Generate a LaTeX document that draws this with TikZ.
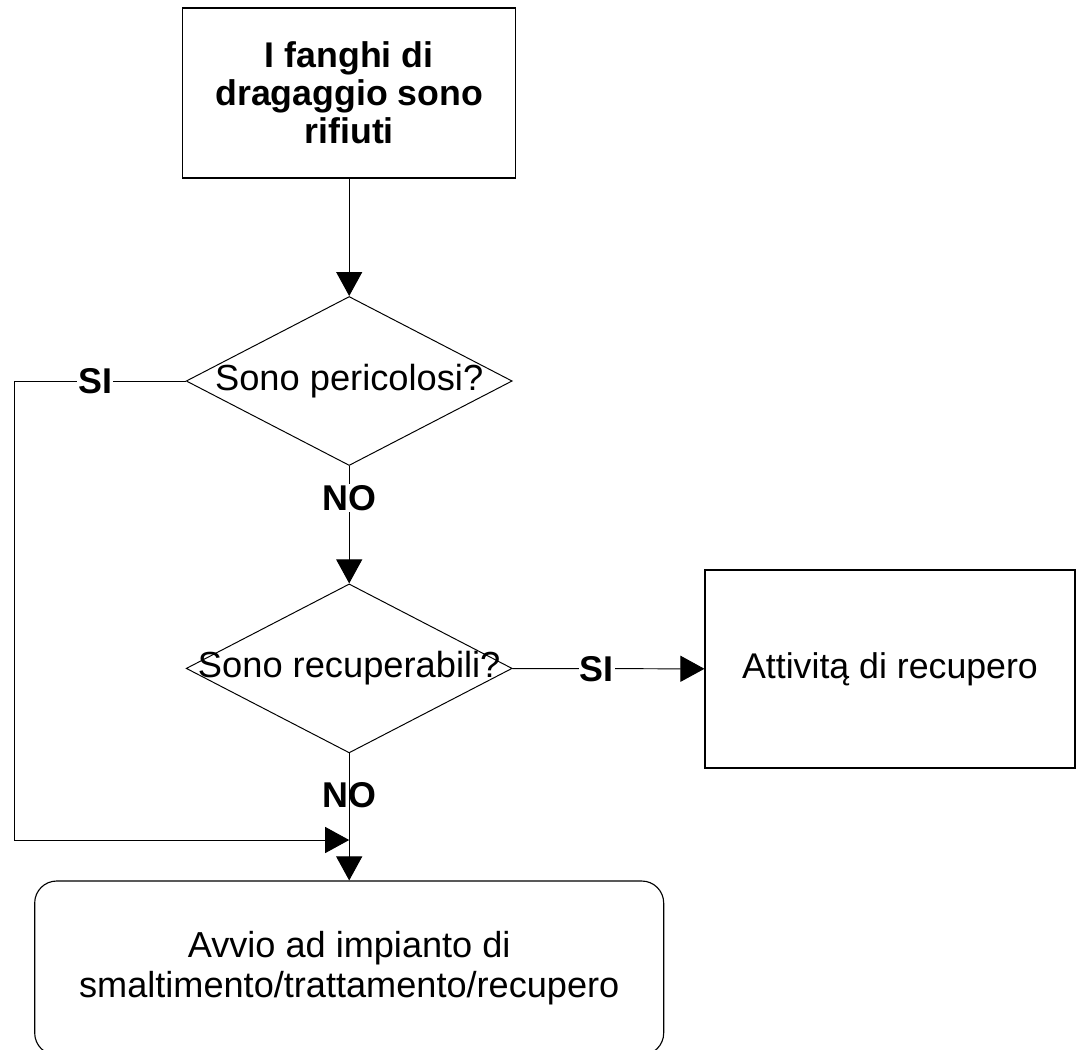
\documentclass[tikz,border=0pt]{standalone}
\usepackage{fontspec}
\setmainfont{Liberation Sans}
\usetikzlibrary{shapes.geometric, arrows.meta}
\tikzstyle{startbox} = [rectangle, draw, line width=0.9pt, minimum width=8.325cm, minimum height=4.25cm, align=center, font=\bfseries\fontsize{25.4}{27}\selectfont]
\tikzstyle{decision} = [diamond, draw, line width=0.7pt, inner sep=0pt, minimum width=8.15cm, minimum height=4.225cm, font=\fontsize{25.8}{31}\selectfont]
\tikzstyle{process} = [rectangle, draw, line width=0.8pt, minimum width=9.25cm, minimum height=4.95cm, align=center, font=\fontsize{25.4}{30}\selectfont]
\tikzstyle{endbox} = [rectangle, draw, line width=0.8pt, rounded corners=0.55cm, minimum width=15.725cm, minimum height=4.35cm, align=center, font=\fontsize{25.7}{28.5}\selectfont]
\tikzstyle{answer} = [fill=white, inner sep=1pt, font=\bfseries\fontsize{25.5}{28}\selectfont]
\tikzstyle{arrow} = [line width=0.7pt, -{Triangle[length=0.6cm, width=0.65cm]}]

\begin{document}
\begin{tikzpicture}
    \useasboundingbox (0,0) rectangle (26.9,-26.225);

    \node [startbox] at (8.73,-2.325) (start) {I fanghi di\\dragaggio sono\\rifiuti};
    \node [decision] at (8.73,-9.525) (danger) {\makebox[0pt]{Sono pericolosi?}};
    \node [decision] at (8.73,-16.71) (recover) {\makebox[0pt]{Sono recuperabili?}};
    \node [process] at (22.25,-16.725) (activity) {Attivitą di recupero};
    \node [endbox] at (8.73,-24.2) (plant) {Avvio ad impianto di\\smaltimento/trattamento/recupero};
    \coordinate (join) at (8.73,-21);

    \draw [arrow] (start) -- (danger);
    \draw [arrow] (danger) -- node[answer, pos=0.27] {NO} (recover);
    \draw [arrow] (recover) -- node[answer, pos=0.44] {SI} (activity);
    \draw [arrow] (recover) -- node[answer, fill=none, pos=0.33] {NO} (plant);
    \draw [arrow] (danger.west) -- node[answer, pos=0.53] {SI} ++(-4.275,0) |- (join);
\end{tikzpicture}
\end{document}
